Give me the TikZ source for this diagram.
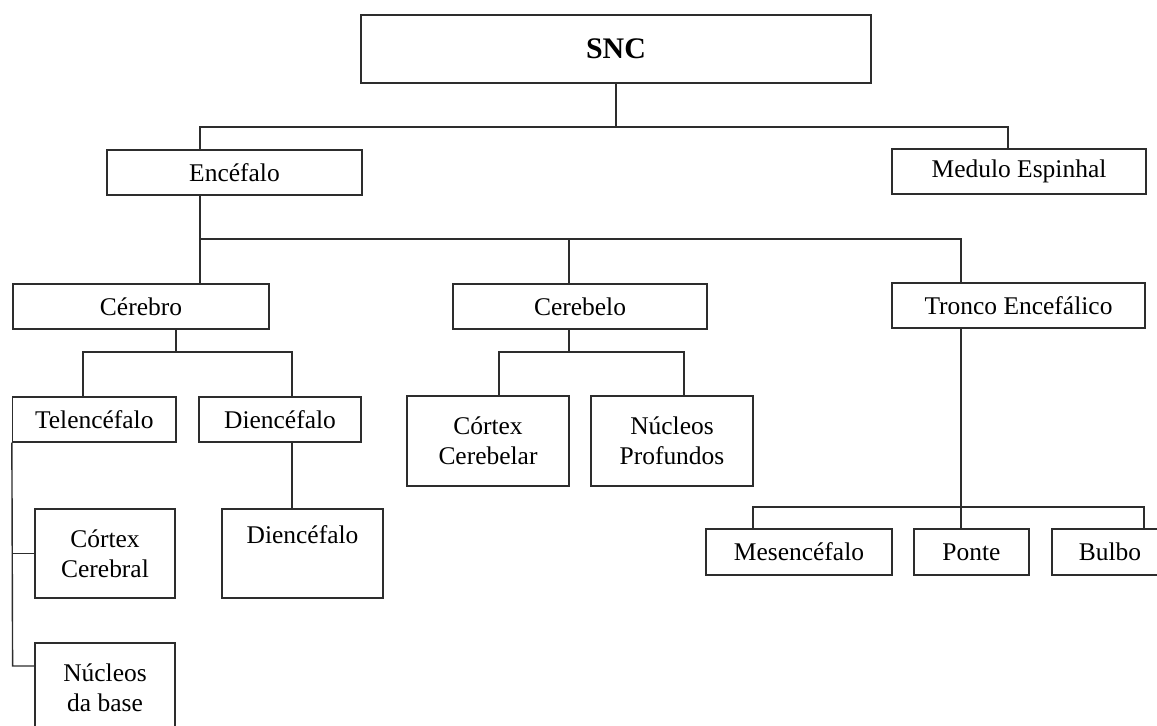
\documentclass[tikz,border=0pt]{standalone}
\usepackage{fontspec}
\setmainfont{Liberation Serif}
\usepackage{tikz}
\usetikzlibrary{positioning,calc}
\definecolor{DarkLine}{RGB}{45,45,45}
\begin{document}
\begin{tikzpicture}[x=0.02cm,y=-0.02cm,
  box/.style={draw=DarkLine,line width=0.8pt,inner sep=0pt,align=center,
              font=\fontsize{14.5}{17}\selectfont},
  wire/.style={draw=DarkLine,line width=0.8pt},
]
\useasboundingbox[fill=white] (0,0) rectangle (1157,726);
\clip (0,0) rectangle (1157,726);
\node[box,minimum width=10.2cm,minimum height=1.36cm,font=\fontsize{17}{20}\selectfont\bfseries] (snc) at (616,49) {SNC};
\node[box,minimum width=5.1cm,minimum height=0.9cm] (encefalo) at (234.5,172.5) {Encéfalo};
\node[box,minimum width=5.08cm,minimum height=0.9cm] (medulo) at (1019,171.5) {Medulo Espinhal};
\node[box,minimum width=5.12cm,minimum height=0.9cm] (cerebro) at (141,306.5) {Cérebro};
\node[box,minimum width=5.08cm,minimum height=0.9cm] (cerebelo) at (580,306.5) {Cerebelo};
\node[box,minimum width=5.06cm,minimum height=0.9cm] (tronco) at (1018.5,305.5) {Tronco Encefálico};
\node[box,minimum width=3.27cm,minimum height=0.9cm] (telenc) at (94.3,419.5) {Telencéfalo};
\node[box,minimum width=3.24cm,minimum height=0.9cm] (dienc) at (280,419.5) {Diencéfalo};
\node[box,minimum width=2.8cm,minimum height=1.78cm] (cortexcer) at (105,553.5) {Córtex\\Cerebral};
\node[box,minimum width=3.22cm,minimum height=1.78cm] (diencb) at (302.5,553.5) {Diencéfalo\\\strut};
\node[box,minimum width=2.8cm,minimum height=1.78cm] (nucbase) at (105,687.5) {Núcleos\\da base};
\node[box,minimum width=3.24cm,minimum height=1.8cm] (cortexcb) at (488,441) {Córtex\\Cerebelar};
\node[box,minimum width=3.24cm,minimum height=1.8cm] (nucprof) at (672,441) {Núcleos\\Profundos};
\node[box,minimum width=3.72cm,minimum height=0.92cm] (mesenc) at (799,552) {Mesencéfalo};
\node[box,minimum width=2.3cm,minimum height=0.92cm] (ponte) at (971.5,552) {Ponte};
\node[box,minimum width=2.32cm,minimum height=0.92cm] (bulbo) at (1110,552) {Bulbo};
\coordinate (busA) at (200,127);
\coordinate (busB) at (1008,127);
\coordinate (busC) at (200,239);
\coordinate (busD) at (961,239);
\coordinate (busE) at (569,239);
\coordinate (busF) at (83,352);
\coordinate (busG) at (292,352);
\coordinate (busH) at (176,352);
\coordinate (busI) at (499,352);
\coordinate (busJ) at (684,352);
\coordinate (busK) at (753,507);
\coordinate (busL) at (1144,507);
\coordinate (brA) at (12.6,666);
\draw[wire] (snc.south) -- (snc.south |- busA);
\draw[wire] (encefalo.north -| busA) |- (busB) -- (medulo.north -| busB);
\draw[wire] (encefalo.south -| busC) -- (cerebro.north -| busC);
\draw[wire] (busC) -- (busD) -- (tronco.north -| busD);
\draw[wire] (busE) -- (cerebelo.north -| busE);
\draw[wire] (cerebro.south -| busH) -- (busH);
\draw[wire] (telenc.north -| busF) |- (busG) -- (dienc.north -| busG);
\draw[wire] (dienc.south -| busG) -- (diencb.north -| busG);
\draw[wire] (telenc.south west) -- (brA) -- (brA -| nucbase.west);
\draw[wire] (cortexcer.west) -- (cortexcer.west -| brA);
\draw[wire] (cerebelo.south -| busE) -- (busE |- busI);
\draw[wire] (cortexcb.north -| busI) |- (busJ) -- (nucprof.north -| busJ);
\draw[wire] (tronco.south -| busD) -- (ponte.north -| busD);
\draw[wire] (mesenc.north -| busK) |- (busL) -- (bulbo.north -| busL);
\end{tikzpicture}
\end{document}
